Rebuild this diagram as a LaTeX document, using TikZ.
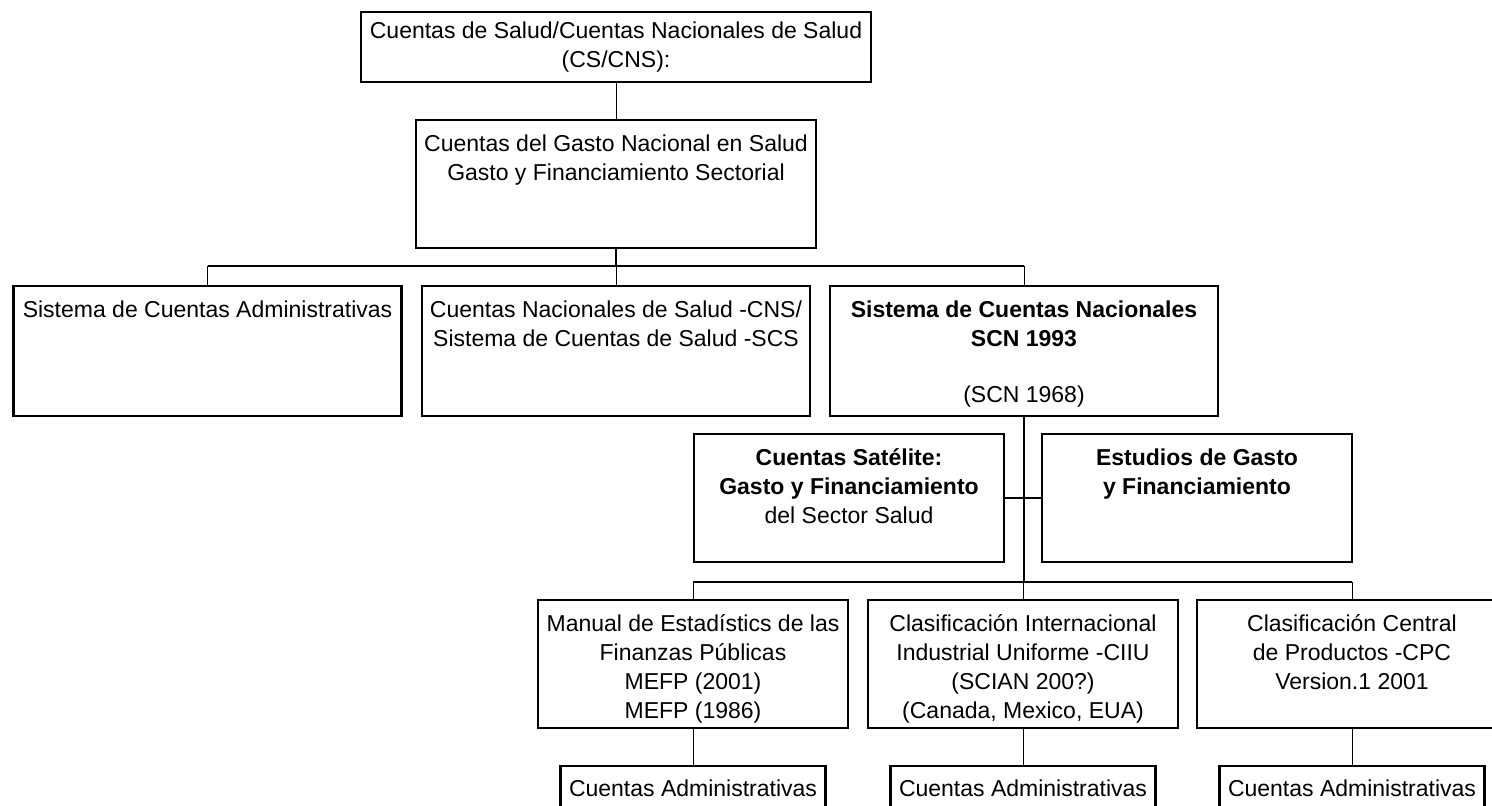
\documentclass[tikz,border=0pt]{standalone}
\usepackage{fontspec}
\setmainfont{Liberation Sans}
\usepackage{tikz}
\usetikzlibrary{positioning}

\newcommand{\cajatexto}[3]{\parbox[c][#2][t]{#1}{\centering\rule{0pt}{15.5pt}#3}}

\begin{document}
\begin{tikzpicture}[x=0.5pt,y=-0.5pt,
  every node/.style={font=\fontsize{11.5}{14.5}\selectfont},
  caja/.style={draw,line width=1.4pt,inner sep=0pt},
  cajachica/.style={draw,line width=1.4pt,inner xsep=1pt,inner ysep=0pt,align=center},
  fino/.style={line width=0.5pt},
  grueso/.style={line width=1pt}]

\useasboundingbox (0,0) rectangle (1492,805);
\clip (0,0) rectangle (1492,805);

\node [cajachica,minimum width=255pt,minimum height=35pt] (tope) at (616,47) {Cuentas de Salud/Cuentas Nacionales de Salud\\(CS/CNS):};
\node [caja] (gasto) at (616,184) {\cajatexto{200pt}{64pt}{Cuentas del Gasto Nacional en Salud\\Gasto y Financiamiento Sectorial}};

\node [caja] (sca) at (207.5,351) {\cajatexto{194pt}{65pt}{Sistema de Cuentas Administrativas}};
\node [caja] (cns) at (616,351) {\cajatexto{194pt}{65pt}{Cuentas Nacionales de Salud -CNS/\\Sistema de Cuentas de Salud -SCS}};
\node [caja] (scn) at (1024,351) {\cajatexto{194pt}{65pt}{\textbf{Sistema de Cuentas Nacionales}\\\textbf{SCN 1993}\\[13.5pt](SCN 1968)}};

\node [caja] (sat) at (849,498) {\cajatexto{155pt}{64pt}{\textbf{Cuentas Satélite:}\\\textbf{Gasto y Financiamiento}\\del Sector Salud}};
\node [caja] (est) at (1197,498) {\cajatexto{155pt}{64pt}{\textbf{Estudios de Gasto}\\\textbf{y Financiamiento}}};

\node [caja] (mefp) at (693,664) {\cajatexto{155pt}{64pt}{Manual de Estadístics de las\\Finanzas Públicas\\MEFP (2001)\\MEFP (1986)}};
\node [caja] (ciiu) at (1023,664) {\cajatexto{155pt}{64pt}{Clasificación Internacional\\Industrial Uniforme -CIIU\\(SCIAN 200?)\\(Canada, Mexico, EUA)}};
\node [caja] (cpc) at (1352,664) {\cajatexto{155pt}{64pt}{Clasificación Central\\de Productos -CPC\\Version.1 2001}};

\node [cajachica,minimum width=132.5pt,minimum height=22pt] (adm1) at (693,788) {Cuentas Administrativas};
\node [cajachica,minimum width=132.5pt,minimum height=22pt] (adm2) at (1023,788) {Cuentas Administrativas};
\node [cajachica,minimum width=132.5pt,minimum height=22pt] (adm3) at (1352,788) {Cuentas Administrativas};

\coordinate (b1) at (616,266);
\coordinate (b2) at (1022,582);

\draw [fino] (tope.south) -- (gasto.north);
\draw [grueso] (gasto.south) -- (b1);
\draw [grueso] (sca.north |- b1) -- (scn.north |- b1);
\foreach \n in {sca,cns,scn} \draw [fino] (\n.north) -- (\n.north |- b1);

\draw [grueso] (scn.south) -- (scn.south |- b2);
\draw [grueso] (sat.east) -- (est.west);
\draw [grueso] (mefp.north |- b2) -- (cpc.north |- b2);
\foreach \n in {mefp,ciiu,cpc} \draw [fino] (\n.north) -- (\n.north |- b2);

\draw [fino] (mefp.south) -- (adm1.north);
\draw [fino] (ciiu.south) -- (adm2.north);
\draw [fino] (cpc.south) -- (adm3.north);

\end{tikzpicture}
\end{document}
